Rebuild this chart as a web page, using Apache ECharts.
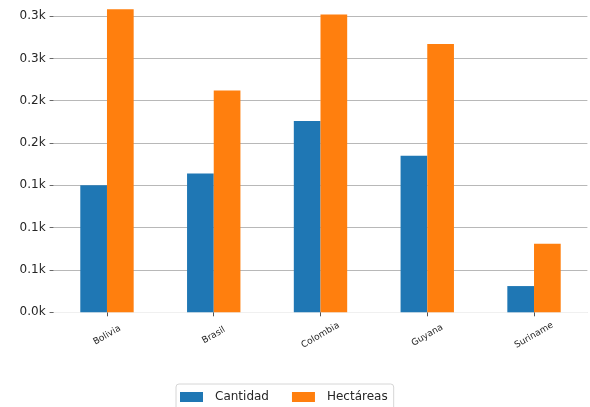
<!DOCTYPE html>
<html>
<head>
<meta charset="utf-8">
<script src="https://cdn.jsdelivr.net/npm/echarts@6/dist/echarts.min.js"></script>
<style>
html,body{margin:0;padding:0;background:#fff;}
#c{width:590px;height:407px;}
</style>
</head>
<body>
<div id="c"></div>
<script>
const categories = ['Bolivia', 'Brasil', 'Colombia', 'Guyana', 'Suriname'];
const cantidad = [150, 164, 226, 185, 31];
const hectareas = [358, 262, 352, 317, 81];
const yTickLabels = ['0.0k', '0.1k', '0.1k', '0.1k', '0.2k', '0.2k', '0.3k', '0.3k'];
const seriesNames = ['Cantidad', 'Hectáreas'];

const chart = echarts.init(document.getElementById('c'), null, {renderer: 'canvas'});
chart.setOption({
  animation: false,
  backgroundColor: '#ffffff',
  textStyle: {fontFamily: 'DejaVu Sans'},
  grid: {left: 53.6, right: 2.6, top: 0, bottom: 94.7, containLabel: false},
  legend: {
    data: seriesNames,
    bottom: -8,
    left: 176,
    itemWidth: 23,
    itemHeight: 10,
    itemGap: 23,
    padding: [7, 6, 12, 4],
    borderColor: '#d6d6d6',
    borderWidth: 1,
    borderRadius: 3,
    icon: 'rect',
    textStyle: {fontSize: 12, color: '#262626', fontFamily: 'DejaVu Sans', padding: [0, 0, 0, 7]}
  },
  xAxis: {
    type: 'category',
    data: categories,
    axisLine: {show: true, lineStyle: {color: '#f0f0f0', width: 1}},
    axisTick: {show: true, alignWithLabel: true, length: 4, lineStyle: {color: '#555'}},
    axisLabel: {rotate: 30, fontSize: 9, color: '#262626', margin: 23, align: 'center', verticalAlign: 'middle'},
    splitLine: {show: false}
  },
  yAxis: {
    type: 'value',
    min: 0,
    max: 369,
    interval: 50,
    axisLine: {show: false},
    axisTick: {show: true, length: 4, lineStyle: {color: '#666'}},
    axisLabel: {
      fontSize: 12, color: '#262626', margin: 8, showMaxLabel: false,
      formatter: function (v) {
        const i = Math.round(v / 50);
        return (v % 50 === 0 && i < yTickLabels.length) ? yTickLabels[i] : '';
      }
    },
    splitLine: {show: true, showMaxLine: false, lineStyle: {color: '#b8b8b8', width: 1}}
  },
  series: [
    {name: seriesNames[0], type: 'bar', data: cantidad, barGap: '0%', barCategoryGap: '50%',
     itemStyle: {color: '#1f77b4'}},
    {name: seriesNames[1], type: 'bar', data: hectareas, barGap: '0%', barCategoryGap: '50%',
     itemStyle: {color: '#ff7f0e'}}
  ]
});
</script>
</body>
</html>
